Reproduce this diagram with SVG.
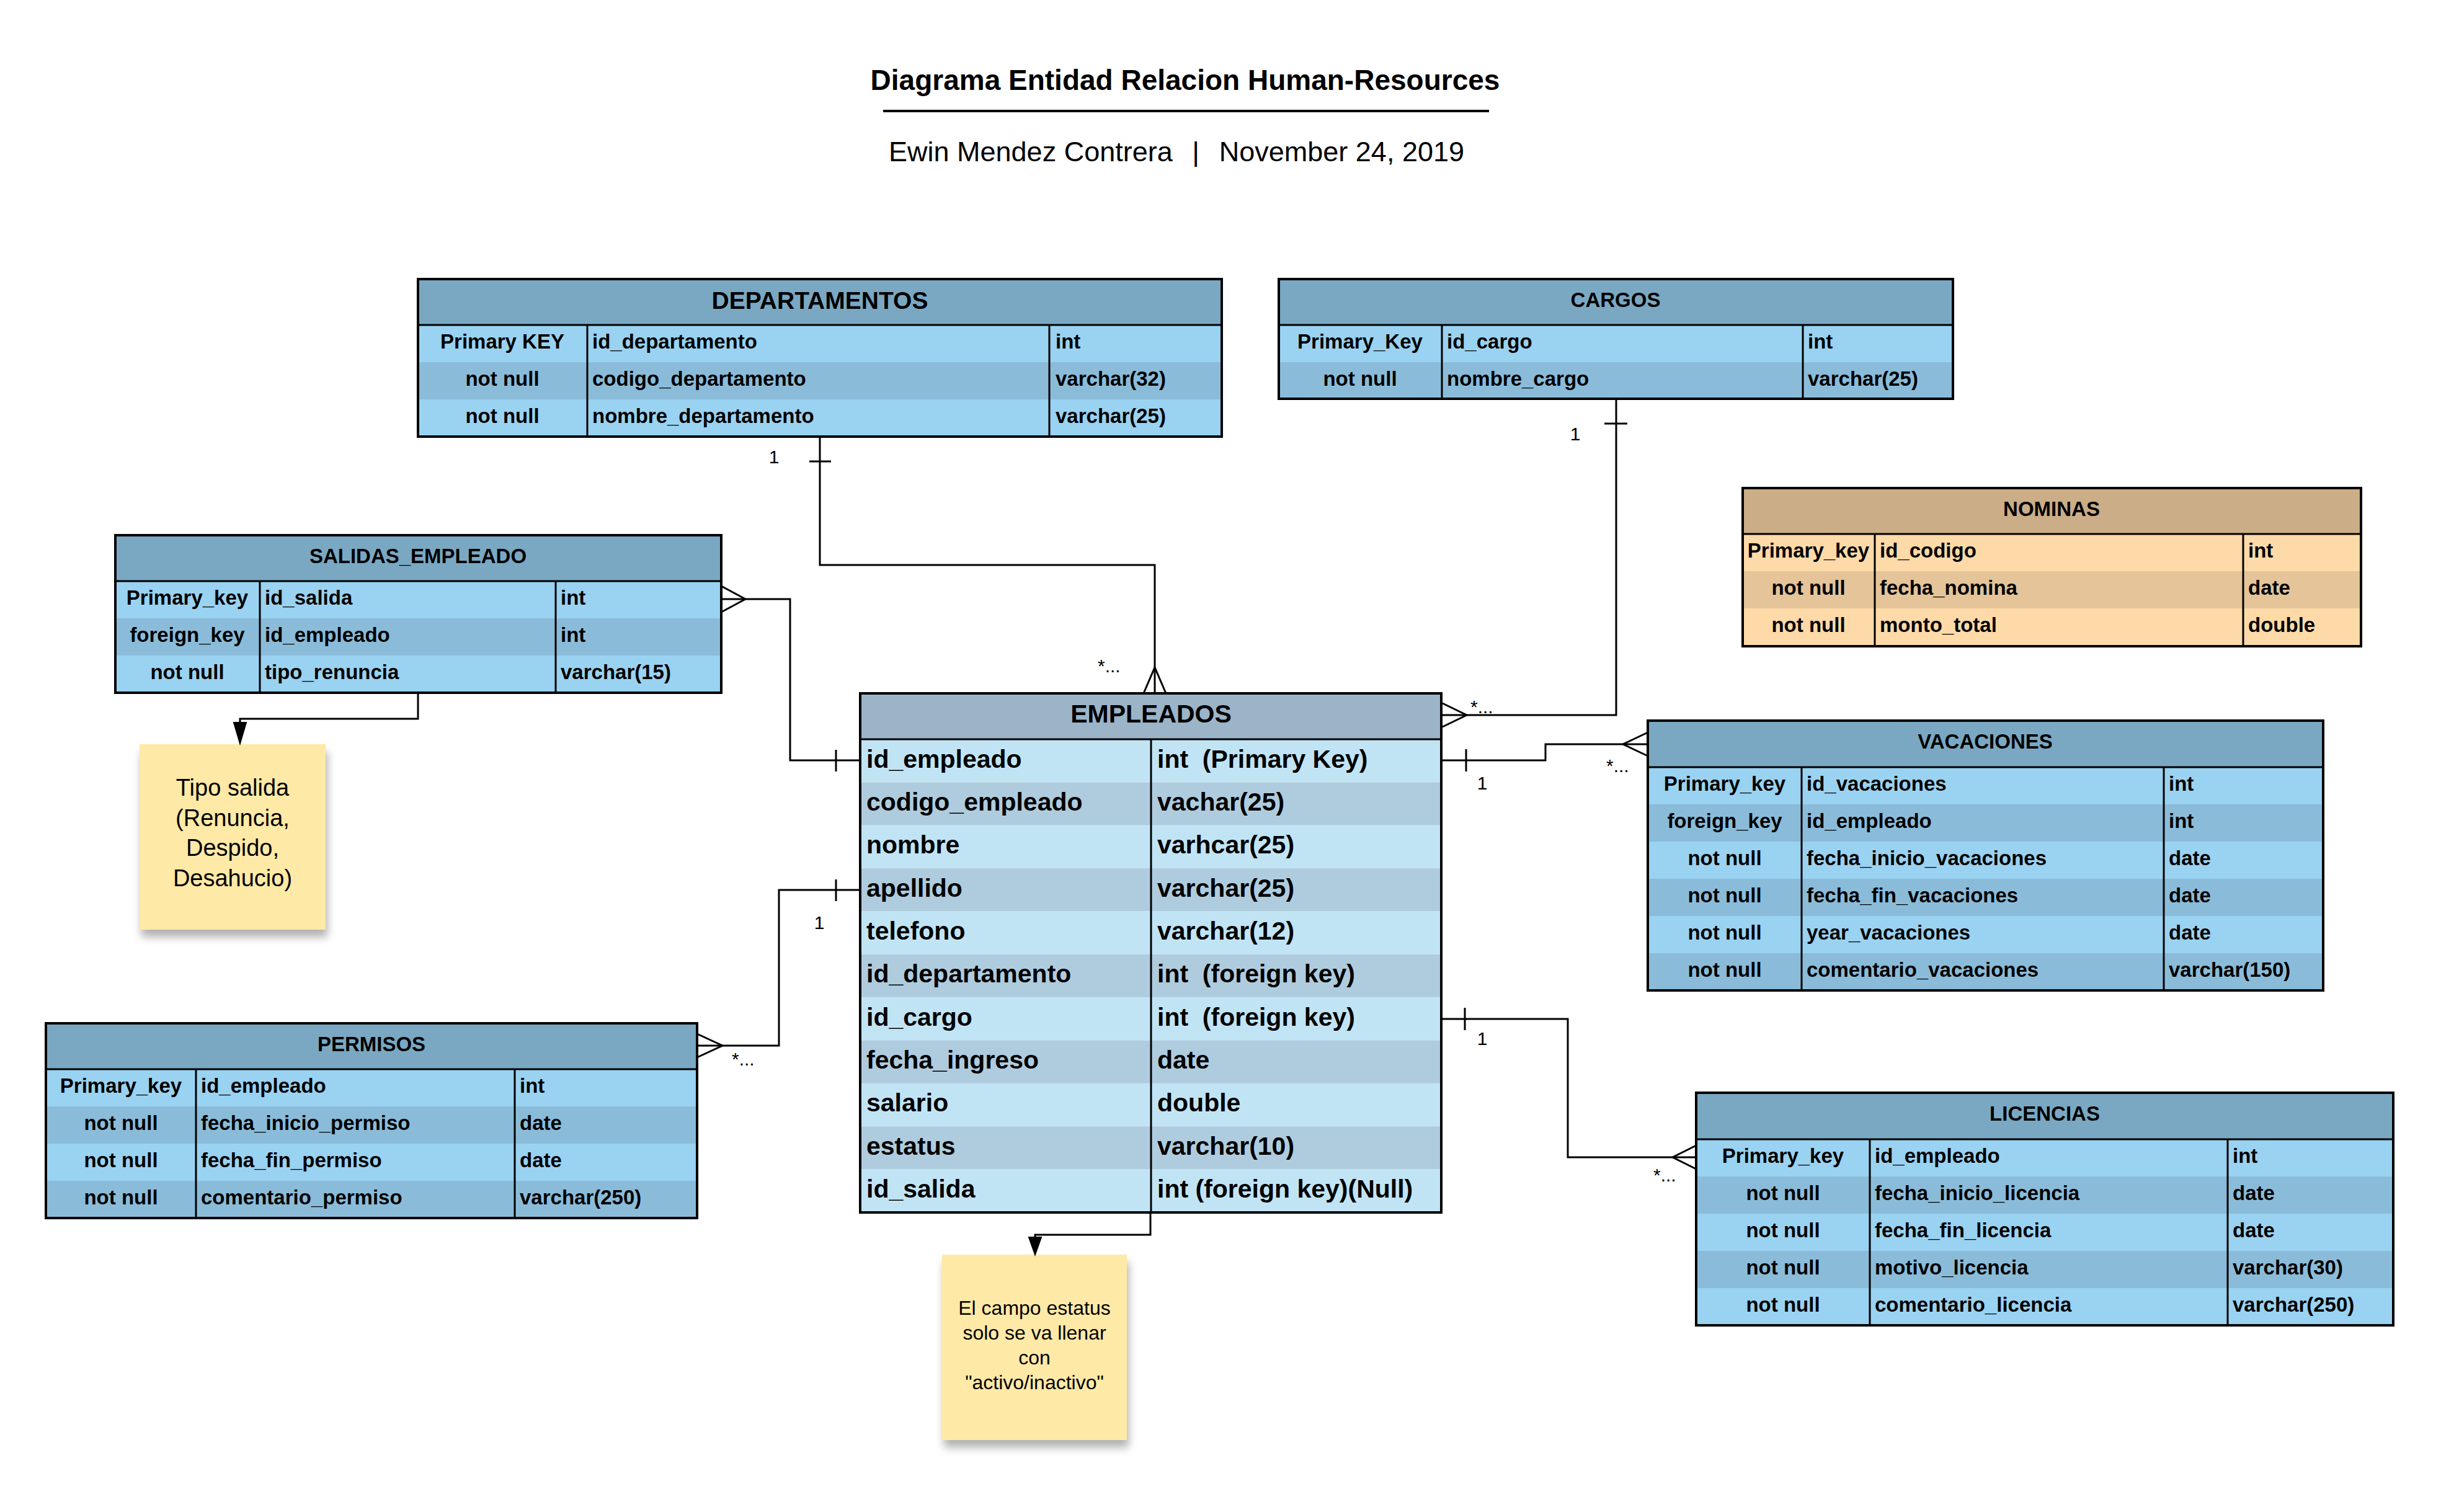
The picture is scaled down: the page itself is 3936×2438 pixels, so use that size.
<svg xmlns="http://www.w3.org/2000/svg" width="3936" height="2438" viewBox="0 0 3936 2438">
<style>
text{font-family:"Liberation Sans",Arial,sans-serif;fill:#000}
.hd{font-weight:bold;font-size:33px;text-anchor:middle;dominant-baseline:central}
.big{font-size:39px}
.bige{font-size:41px}
.c{font-weight:bold;font-size:33px;dominant-baseline:central;white-space:pre}
.ce{font-weight:bold;font-size:41px;dominant-baseline:central;white-space:pre}
.m{text-anchor:middle}
.lbl{font-size:30px}
.note{font-size:38px;text-anchor:middle}
.note2{font-size:32px;text-anchor:middle;dominant-baseline:central}
.frame{fill:none;stroke:#000;stroke-width:4}
.dv{stroke:#000;stroke-width:3;fill:none}
.bh{fill:#7aa8c3}.bl{fill:#9ad2f1}.bd{fill:#8abcda}
.eh{fill:#9bb4c8}.el{fill:#c1e4f5}.ed{fill:#afccde}
.nh{fill:#cbad87}.nl{fill:#fddaa8}.nd{fill:#e4c498}
.conn path{fill:none;stroke:#000;stroke-width:3}
.conn path.ah{fill:#000;stroke:#000;stroke-width:2}
.notebox{fill:#fee9a6}
</style>
<defs>
<filter id="sh" x="-20%" y="-20%" width="140%" height="150%">
<feDropShadow dx="3" dy="12" stdDeviation="7" flood-color="#000" flood-opacity="0.3"/>
</filter>
</defs>
<rect width="3936" height="2438" fill="#fff"/>

<g id="title">
<text x="1911" y="145" text-anchor="middle" font-weight="bold" font-size="46">Diagrama Entidad Relacion Human-Resources</text>
<line x1="1424" y1="179" x2="2401" y2="179" stroke="#000" stroke-width="4"/>
<text x="1433" y="260" font-size="45">Ewin Mendez Contrera</text>
<text x="1928" y="260" text-anchor="middle" font-size="45">|</text>
<text x="2361" y="260" text-anchor="end" font-size="45">November 24, 2019</text>
</g>

<g id="departamentos">
<rect class="bh" x="674" y="450" width="1296" height="74"/>
<rect class="bl" x="674" y="524" width="1296" height="60"/>
<rect class="bd" x="674" y="584" width="1296" height="60"/>
<rect class="bl" x="674" y="644" width="1296" height="60"/>
<line class="dv" x1="674" y1="524" x2="1970" y2="524"/>
<line class="dv" x1="947" y1="524" x2="947" y2="704"/>
<line class="dv" x1="1692" y1="524" x2="1692" y2="704"/>
<rect class="frame" x="674" y="450" width="1296" height="254"/>
<text class="hd big" x="1322" y="484">DEPARTAMENTOS</text>
<text class="c m" x="810" y="550">Primary KEY</text>
<text class="c" x="955" y="550">id_departamento</text>
<text class="c" x="1702" y="550">int</text>
<text class="c m" x="810" y="610">not null</text>
<text class="c" x="955" y="610">codigo_departamento</text>
<text class="c" x="1702" y="610">varchar(32)</text>
<text class="c m" x="810" y="670">not null</text>
<text class="c" x="955" y="670">nombre_departamento</text>
<text class="c" x="1702" y="670">varchar(25)</text>
</g>

<g id="cargos">
<rect class="bh" x="2062" y="450" width="1087" height="74"/>
<rect class="bl" x="2062" y="524" width="1087" height="60"/>
<rect class="bd" x="2062" y="584" width="1087" height="59"/>
<line class="dv" x1="2062" y1="524" x2="3149" y2="524"/>
<line class="dv" x1="2325" y1="524" x2="2325" y2="643"/>
<line class="dv" x1="2907" y1="524" x2="2907" y2="643"/>
<rect class="frame" x="2062" y="450" width="1087" height="193"/>
<text class="hd" x="2605" y="483">CARGOS</text>
<text class="c m" x="2193" y="550">Primary_Key</text>
<text class="c" x="2333" y="550">id_cargo</text>
<text class="c" x="2915" y="550">int</text>
<text class="c m" x="2193" y="610">not null</text>
<text class="c" x="2333" y="610">nombre_cargo</text>
<text class="c" x="2915" y="610">varchar(25)</text>
</g>

<g id="nominas">
<rect class="nh" x="2810" y="787" width="997" height="74"/>
<rect class="nl" x="2810" y="861" width="997" height="60"/>
<rect class="nd" x="2810" y="921" width="997" height="60"/>
<rect class="nl" x="2810" y="981" width="997" height="61"/>
<line class="dv" x1="2810" y1="861" x2="3807" y2="861"/>
<line class="dv" x1="3023" y1="861" x2="3023" y2="1042"/>
<line class="dv" x1="3617" y1="861" x2="3617" y2="1042"/>
<rect class="frame" x="2810" y="787" width="997" height="255"/>
<text class="hd" x="3308" y="820">NOMINAS</text>
<text class="c m" x="2916" y="887">Primary_key</text>
<text class="c" x="3031" y="887">id_codigo</text>
<text class="c" x="3625" y="887">int</text>
<text class="c m" x="2916" y="947">not null</text>
<text class="c" x="3031" y="947">fecha_nomina</text>
<text class="c" x="3625" y="947">date</text>
<text class="c m" x="2916" y="1007">not null</text>
<text class="c" x="3031" y="1007">monto_total</text>
<text class="c" x="3625" y="1007">double</text>
</g>

<g id="salidas_empleado">
<rect class="bh" x="186" y="863" width="977" height="74"/>
<rect class="bl" x="186" y="937" width="977" height="60"/>
<rect class="bd" x="186" y="997" width="977" height="60"/>
<rect class="bl" x="186" y="1057" width="977" height="60"/>
<line class="dv" x1="186" y1="937" x2="1163" y2="937"/>
<line class="dv" x1="419" y1="937" x2="419" y2="1117"/>
<line class="dv" x1="896" y1="937" x2="896" y2="1117"/>
<rect class="frame" x="186" y="863" width="977" height="254"/>
<text class="hd" x="674" y="896">SALIDAS_EMPLEADO</text>
<text class="c m" x="302" y="963">Primary_key</text>
<text class="c" x="427" y="963">id_salida</text>
<text class="c" x="904" y="963">int</text>
<text class="c m" x="302" y="1023">foreign_key</text>
<text class="c" x="427" y="1023">id_empleado</text>
<text class="c" x="904" y="1023">int</text>
<text class="c m" x="302" y="1083">not null</text>
<text class="c" x="427" y="1083">tipo_renuncia</text>
<text class="c" x="904" y="1083">varchar(15)</text>
</g>

<g id="empleados">
<rect class="eh" x="1387" y="1118" width="937" height="74"/>
<rect class="el" x="1387" y="1192" width="937" height="69.4"/>
<rect class="ed" x="1387" y="1261.4" width="937" height="69.4"/>
<rect class="el" x="1387" y="1330.7" width="937" height="69.4"/>
<rect class="ed" x="1387" y="1400.1" width="937" height="69.4"/>
<rect class="el" x="1387" y="1469.4" width="937" height="69.4"/>
<rect class="ed" x="1387" y="1538.8" width="937" height="69.4"/>
<rect class="el" x="1387" y="1608.2" width="937" height="69.4"/>
<rect class="ed" x="1387" y="1677.5" width="937" height="69.4"/>
<rect class="el" x="1387" y="1746.9" width="937" height="69.4"/>
<rect class="ed" x="1387" y="1816.2" width="937" height="69.4"/>
<rect class="el" x="1387" y="1885.6" width="937" height="69.4"/>
<line class="dv" x1="1387" y1="1192" x2="2324" y2="1192"/>
<line class="dv" x1="1856" y1="1192" x2="1856" y2="1955"/>
<rect class="frame" x="1387" y="1118" width="937" height="837"/>
<text class="hd bige" x="1856" y="1151">EMPLEADOS</text>
<text class="ce" x="1397" y="1224">id_empleado</text>
<text class="ce" x="1866" y="1224">int  (Primary Key)</text>
<text class="ce" x="1397" y="1293">codigo_empleado</text>
<text class="ce" x="1866" y="1293">vachar(25)</text>
<text class="ce" x="1397" y="1362">nombre</text>
<text class="ce" x="1866" y="1362">varhcar(25)</text>
<text class="ce" x="1397" y="1432">apellido</text>
<text class="ce" x="1866" y="1432">varchar(25)</text>
<text class="ce" x="1397" y="1501">telefono</text>
<text class="ce" x="1866" y="1501">varchar(12)</text>
<text class="ce" x="1397" y="1570">id_departamento</text>
<text class="ce" x="1866" y="1570">int  (foreign key)</text>
<text class="ce" x="1397" y="1640">id_cargo</text>
<text class="ce" x="1866" y="1640">int  (foreign key)</text>
<text class="ce" x="1397" y="1709">fecha_ingreso</text>
<text class="ce" x="1866" y="1709">date</text>
<text class="ce" x="1397" y="1778">salario</text>
<text class="ce" x="1866" y="1778">double</text>
<text class="ce" x="1397" y="1848">estatus</text>
<text class="ce" x="1866" y="1848">varchar(10)</text>
<text class="ce" x="1397" y="1917">id_salida</text>
<text class="ce" x="1866" y="1917">int (foreign key)(Null)</text>
</g>

<g id="vacaciones">
<rect class="bh" x="2657" y="1162" width="1089" height="75"/>
<rect class="bl" x="2657" y="1237" width="1089" height="60"/>
<rect class="bd" x="2657" y="1297" width="1089" height="60"/>
<rect class="bl" x="2657" y="1357" width="1089" height="60"/>
<rect class="bd" x="2657" y="1417" width="1089" height="60"/>
<rect class="bl" x="2657" y="1477" width="1089" height="60"/>
<rect class="bd" x="2657" y="1537" width="1089" height="60"/>
<line class="dv" x1="2657" y1="1237" x2="3746" y2="1237"/>
<line class="dv" x1="2905" y1="1237" x2="2905" y2="1597"/>
<line class="dv" x1="3489" y1="1237" x2="3489" y2="1597"/>
<rect class="frame" x="2657" y="1162" width="1089" height="435"/>
<text class="hd" x="3201" y="1195">VACACIONES</text>
<text class="c m" x="2781" y="1263">Primary_key</text>
<text class="c" x="2913" y="1263">id_vacaciones</text>
<text class="c" x="3497" y="1263">int</text>
<text class="c m" x="2781" y="1323">foreign_key</text>
<text class="c" x="2913" y="1323">id_empleado</text>
<text class="c" x="3497" y="1323">int</text>
<text class="c m" x="2781" y="1383">not null</text>
<text class="c" x="2913" y="1383">fecha_inicio_vacaciones</text>
<text class="c" x="3497" y="1383">date</text>
<text class="c m" x="2781" y="1443">not null</text>
<text class="c" x="2913" y="1443">fecha_fin_vacaciones</text>
<text class="c" x="3497" y="1443">date</text>
<text class="c m" x="2781" y="1503">not null</text>
<text class="c" x="2913" y="1503">year_vacaciones</text>
<text class="c" x="3497" y="1503">date</text>
<text class="c m" x="2781" y="1563">not null</text>
<text class="c" x="2913" y="1563">comentario_vacaciones</text>
<text class="c" x="3497" y="1563">varchar(150)</text>
</g>

<g id="permisos">
<rect class="bh" x="74" y="1650" width="1050" height="74"/>
<rect class="bl" x="74" y="1724" width="1050" height="60"/>
<rect class="bd" x="74" y="1784" width="1050" height="60"/>
<rect class="bl" x="74" y="1844" width="1050" height="60"/>
<rect class="bd" x="74" y="1904" width="1050" height="60"/>
<line class="dv" x1="74" y1="1724" x2="1124" y2="1724"/>
<line class="dv" x1="316" y1="1724" x2="316" y2="1964"/>
<line class="dv" x1="830" y1="1724" x2="830" y2="1964"/>
<rect class="frame" x="74" y="1650" width="1050" height="314"/>
<text class="hd" x="599" y="1683">PERMISOS</text>
<text class="c m" x="195" y="1750">Primary_key</text>
<text class="c" x="324" y="1750">id_empleado</text>
<text class="c" x="838" y="1750">int</text>
<text class="c m" x="195" y="1810">not null</text>
<text class="c" x="324" y="1810">fecha_inicio_permiso</text>
<text class="c" x="838" y="1810">date</text>
<text class="c m" x="195" y="1870">not null</text>
<text class="c" x="324" y="1870">fecha_fin_permiso</text>
<text class="c" x="838" y="1870">date</text>
<text class="c m" x="195" y="1930">not null</text>
<text class="c" x="324" y="1930">comentario_permiso</text>
<text class="c" x="838" y="1930">varchar(250)</text>
</g>

<g id="licencias">
<rect class="bh" x="2735" y="1762" width="1124" height="75"/>
<rect class="bl" x="2735" y="1837" width="1124" height="60"/>
<rect class="bd" x="2735" y="1897" width="1124" height="60"/>
<rect class="bl" x="2735" y="1957" width="1124" height="60"/>
<rect class="bd" x="2735" y="2017" width="1124" height="60"/>
<rect class="bl" x="2735" y="2077" width="1124" height="60"/>
<line class="dv" x1="2735" y1="1837" x2="3859" y2="1837"/>
<line class="dv" x1="3015" y1="1837" x2="3015" y2="2137"/>
<line class="dv" x1="3592" y1="1837" x2="3592" y2="2137"/>
<rect class="frame" x="2735" y="1762" width="1124" height="375"/>
<text class="hd" x="3297" y="1795">LICENCIAS</text>
<text class="c m" x="2875" y="1863">Primary_key</text>
<text class="c" x="3023" y="1863">id_empleado</text>
<text class="c" x="3600" y="1863">int</text>
<text class="c m" x="2875" y="1923">not null</text>
<text class="c" x="3023" y="1923">fecha_inicio_licencia</text>
<text class="c" x="3600" y="1923">date</text>
<text class="c m" x="2875" y="1983">not null</text>
<text class="c" x="3023" y="1983">fecha_fin_licencia</text>
<text class="c" x="3600" y="1983">date</text>
<text class="c m" x="2875" y="2043">not null</text>
<text class="c" x="3023" y="2043">motivo_licencia</text>
<text class="c" x="3600" y="2043">varchar(30)</text>
<text class="c m" x="2875" y="2103">not null</text>
<text class="c" x="3023" y="2103">comentario_licencia</text>
<text class="c" x="3600" y="2103">varchar(250)</text>
</g>

<g id="note_tipo_salida">
<rect class="notebox" x="225" y="1200" width="300" height="299" filter="url(#sh)"/>
<text class="note" x="375" y="1283">Tipo salida</text>
<text class="note" x="375" y="1332">(Renuncia,</text>
<text class="note" x="375" y="1380">Despido,</text>
<text class="note" x="375" y="1429">Desahucio)</text>
</g>

<g id="note_estatus">
<rect class="notebox" x="1519" y="2023" width="298" height="299" filter="url(#sh)"/>
<text class="note2" x="1668" y="2109">El campo estatus</text>
<text class="note2" x="1668" y="2149">solo se va llenar</text>
<text class="note2" x="1668" y="2189">con</text>
<text class="note2" x="1668" y="2229">"activo/inactivo"</text>
</g>

<g id="connectors" class="conn">
<path d="M1322,704 V911 H1862 V1118"/>
<path d="M1305,744 H1340"/>
<path d="M1844,1118 L1862,1076 L1880,1118"/>
<path d="M2606,643 V1153 H2326"/>
<path d="M2587,683 H2624"/>
<path d="M2326,1134 L2365,1153 L2326,1172"/>
<path d="M2326,1226 H2492 V1200 H2657"/>
<path d="M2364,1208 V1244"/>
<path d="M2657,1181 L2617,1200 L2657,1219"/>
<path d="M2326,1643 H2528 V1866 H2735"/>
<path d="M2362,1625 V1661"/>
<path d="M2735,1847 L2697,1866 L2735,1885"/>
<path d="M1387,1435 H1256 V1686 H1124"/>
<path d="M1348,1418 V1453"/>
<path d="M1124,1667 L1165,1686 L1124,1705"/>
<path d="M1387,1226 H1274 V966 H1163"/>
<path d="M1348,1209 V1244"/>
<path d="M1163,945 L1202,966 L1163,987"/>
<path d="M674,1117 V1159 H387 V1170"/>
<path class="ah" d="M377,1165 L397,1165 L387,1199 Z"/>
<path d="M1855,1955 V1991 H1669 V2000"/>
<path class="ah" d="M1659,1995 L1679,1995 L1669,2023 Z"/>
<text class="lbl" x="1248" y="747" text-anchor="middle">1</text>
<text class="lbl" x="1770" y="1084">*...</text>
<text class="lbl" x="2540" y="710" text-anchor="middle">1</text>
<text class="lbl" x="2371" y="1150">*...</text>
<text class="lbl" x="2390" y="1273" text-anchor="middle">1</text>
<text class="lbl" x="2590" y="1245">*...</text>
<text class="lbl" x="2390" y="1685" text-anchor="middle">1</text>
<text class="lbl" x="2666" y="1905">*...</text>
<text class="lbl" x="1321" y="1498" text-anchor="middle">1</text>
<text class="lbl" x="1180" y="1718">*...</text>
</g>
</svg>
